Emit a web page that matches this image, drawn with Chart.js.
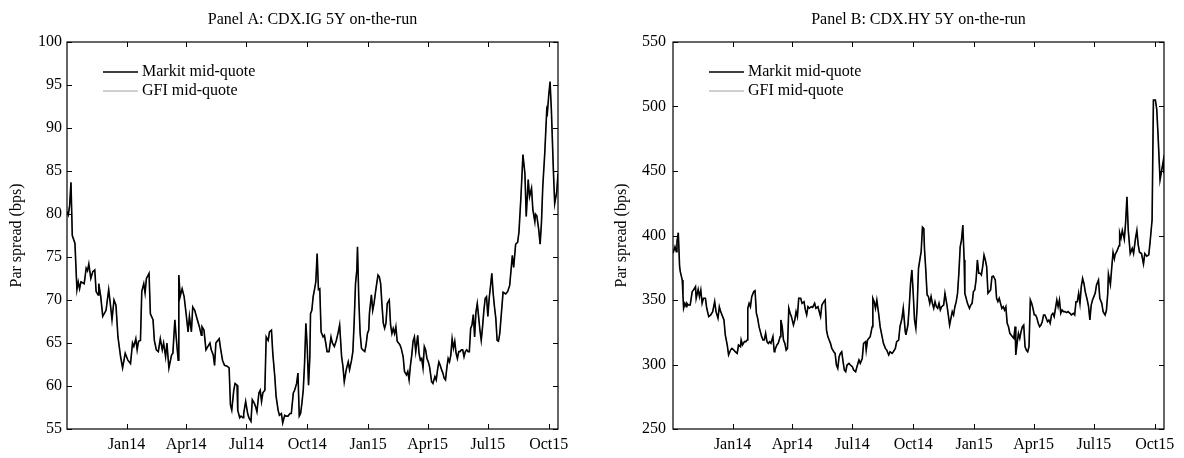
<!DOCTYPE html>
<html>
<head>
<meta charset="utf-8">
<script src="https://cdn.jsdelivr.net/npm/chart.js@4.4.1/dist/chart.umd.min.js"></script>
<style>
  html, body { margin: 0; padding: 0; background: #fff; }
  #wrap { position: relative; width: 1184px; height: 458px; }
  canvas { position: absolute; top: 0; }
</style>
</head>
<body>
<div id="wrap">
  <canvas id="panelA" width="592" height="458" style="left:0"></canvas>
  <canvas id="panelB" width="592" height="458" style="left:592px"></canvas>
</div>
<script>
// x values are days since 2013-10-01
const quarterDays = [92, 182, 273, 365, 457, 547, 638, 730];
const quarterLabels = ['Jan14', 'Apr14', 'Jul14', 'Oct14', 'Jan15', 'Apr15', 'Jul15', 'Oct15'];

// Panel A: CDX.IG 5Y
const daysA = [
  2, 4, 6, 8, 10, 14, 17, 19, 21, 23,
  26, 28, 31, 33, 35, 38, 41, 44, 46, 49,
  50, 53, 56, 61, 65, 68, 70, 73, 76, 79,
  83, 86, 90, 94, 98, 101, 103, 106, 108, 110,
  113, 115, 118, 120, 122, 126, 128, 132, 134, 137,
  140, 143, 146, 148, 151, 153, 156, 160, 162, 165,
  167, 170, 171, 173, 176, 179, 182, 185, 187, 190,
  192, 195, 199, 202, 205, 206, 209, 212, 215, 218,
  220, 223, 225, 227, 229, 232, 234, 237, 240, 244,
  247, 249, 251, 254, 256, 259, 260, 263, 265, 268,
  269, 272, 275, 277, 280, 282, 285, 287, 289, 292,
  294, 296, 298, 301, 303, 306, 308, 311, 313, 316,
  318, 321, 323, 326, 328, 331, 333, 336, 339, 341,
  344, 346, 349, 351, 353, 355, 357, 359, 361, 363,
  365, 367, 369, 370, 372, 374, 376, 378, 380, 382,
  384, 386, 389, 391, 393, 395, 398, 401, 403, 406,
  409, 412, 414, 417, 419, 421, 424, 427, 429, 432,
  434, 436, 438, 440, 441, 443, 445, 447, 449, 452,
  454, 456, 458, 459, 462, 464, 466, 468, 470, 472,
  474, 476, 478, 480, 482, 484, 486, 489, 491, 493,
  495, 497, 499, 501, 503, 505, 507, 510, 512, 515,
  517, 519, 521, 523, 525, 527, 529, 532, 534, 536,
  538, 540, 542, 544, 546, 548, 550, 553, 555, 558,
  560, 562, 564, 566, 568, 570, 572, 574, 576, 578,
  580, 582, 584, 586, 588, 590, 592, 594, 596, 598,
  600, 602, 604, 606, 608, 610, 612, 614, 616, 618,
  620, 622, 624, 626, 628, 630, 632, 634, 636, 638,
  640, 642, 644, 646, 648, 650, 652, 654, 656, 661,
  665, 668, 671, 675, 677, 680, 683, 685, 688, 691,
  694, 696, 699, 701, 704, 706, 709, 710, 712, 715,
  717, 719, 721, 724, 727, 728, 730, 732, 734, 737,
  739, 742, 744
];
const markitA = [
  80.3, 79.9, 81.0, 83.7, 77.5, 76.6, 71.2, 72.1, 71.3, 72.1,
  72.0, 71.9, 73.7, 73.4, 74.2, 72.5, 73.3, 73.5, 71.0, 70.6,
  71.9, 70.4, 68.1, 68.8, 71.2, 69.2, 67.7, 70.0, 69.4, 65.7,
  63.4, 62.1, 63.8, 63.0, 62.6, 65.0, 64.6, 65.5, 64.2, 65.2,
  65.3, 71.0, 71.9, 70.8, 72.5, 73.1, 68.4, 67.7, 65.3, 64.2,
  64.0, 65.5, 64.2, 65.0, 63.4, 65.0, 62.1, 63.6, 63.8, 67.7,
  65.7, 63.0, 72.9, 70.4, 71.3, 70.4, 68.4, 66.3, 68.1, 66.3,
  69.2, 68.8, 67.7, 66.9, 65.9, 66.9, 66.5, 64.2, 64.6, 65.0,
  64.2, 63.6, 62.4, 65.0, 65.2, 65.5, 64.4, 63.0, 62.4, 62.3,
  62.1, 57.8, 57.2, 59.5, 60.3, 60.1, 57.2, 56.3, 56.5, 56.3,
  56.8, 58.2, 56.8, 56.3, 55.9, 58.4, 58.0, 57.6, 57.0, 59.2,
  59.5, 58.2, 59.2, 59.5, 65.7, 65.3, 66.3, 66.5, 63.8, 61.1,
  58.8, 57.2, 56.6, 56.8, 55.7, 56.6, 56.5, 56.5, 56.8, 56.8,
  59.2, 59.5, 60.3, 61.5, 56.5, 56.8, 58.0, 59.5, 62.6, 67.3,
  64.6, 60.1, 63.4, 68.4, 68.8, 70.4, 71.2, 72.1, 75.4, 71.2,
  71.3, 66.3, 65.7, 65.9, 65.0, 64.0, 64.0, 65.7, 65.0, 64.6,
  65.3, 66.3, 67.1, 63.4, 62.3, 60.5, 61.9, 62.8, 61.9, 63.0,
  64.0, 67.5, 71.9, 73.5, 76.2, 70.0, 66.1, 64.4, 64.2, 64.0,
  64.8, 66.1, 66.5, 68.4, 70.6, 68.8, 69.6, 70.8, 71.9, 72.9,
  72.7, 71.9, 69.4, 67.3, 66.7, 67.3, 69.6, 70.0, 67.1, 66.1,
  66.7, 66.1, 66.9, 65.2, 65.0, 64.8, 64.4, 63.4, 61.7, 61.3,
  61.7, 60.7, 62.4, 63.6, 65.2, 65.7, 64.0, 65.9, 63.8, 63.0,
  63.2, 62.1, 64.6, 64.2, 63.2, 62.8, 62.2, 60.5, 60.3, 61.1,
  60.7, 61.9, 62.8, 62.4, 61.9, 61.5, 60.9, 60.7, 62.1, 63.2,
  62.8, 63.6, 65.5, 64.4, 65.2, 63.8, 63.2, 64.0, 64.0, 64.2,
  64.2, 63.4, 64.0, 64.2, 64.0, 64.0, 66.7, 67.1, 68.3, 65.7,
  68.6, 69.6, 68.1, 66.5, 65.3, 66.9, 68.8, 70.2, 70.4, 68.1,
  70.2, 71.6, 73.1, 70.8, 69.2, 67.9, 65.3, 65.2, 66.1, 70.9,
  70.7, 71.0, 71.7, 75.2, 73.8, 76.5, 76.7, 77.9, 82.0, 86.9,
  84.7, 79.7, 84.0, 82.0, 83.0, 80.5, 79.1, 80.0, 79.8, 78.1,
  76.5, 79.0, 83.2, 87.1, 92.1, 91.8, 93.8, 95.4, 92.1, 85.1,
  81.2, 82.5, 84.7
];
const gfiA = [
  80.2, 79.9, 81.1, 83.6, 77.5, 76.5, 71.2, 72.0, 71.3, 72.1,
  72.0, 71.8, 73.7, 73.4, 74.1, 72.5, 73.3, 73.4, 71.0, 70.6,
  71.9, 70.4, 68.2, 68.8, 71.2, 69.2, 67.7, 70.0, 69.3, 65.7,
  63.4, 62.1, 63.8, 63.0, 62.7, 65.0, 64.6, 65.4, 64.2, 65.2,
  65.3, 70.9, 71.9, 70.8, 72.5, 73.0, 68.4, 67.7, 65.3, 64.2,
  64.0, 65.5, 64.2, 65.0, 63.4, 64.9, 62.1, 63.6, 63.8, 67.6,
  65.7, 63.0, 72.8, 70.4, 71.3, 70.4, 68.4, 66.3, 68.1, 66.3,
  69.2, 68.8, 67.6, 66.9, 65.9, 66.9, 66.5, 64.2, 64.6, 65.0,
  64.2, 63.6, 62.4, 65.0, 65.2, 65.5, 64.4, 63.0, 62.4, 62.3,
  62.1, 57.8, 57.2, 59.5, 60.3, 60.1, 57.2, 56.3, 56.5, 56.3,
  56.8, 58.2, 56.8, 56.3, 55.9, 58.3, 58.0, 57.6, 57.0, 59.2,
  59.5, 58.2, 59.2, 59.5, 65.6, 65.3, 66.3, 66.5, 63.8, 61.1,
  58.8, 57.2, 56.6, 56.8, 55.8, 56.6, 56.5, 56.5, 56.8, 56.8,
  59.2, 59.5, 60.3, 61.5, 56.5, 56.8, 58.0, 59.5, 62.6, 67.2,
  64.6, 60.1, 63.4, 68.4, 68.8, 70.4, 71.2, 72.1, 75.3, 71.2,
  71.3, 66.3, 65.7, 65.9, 65.0, 64.0, 64.0, 65.7, 65.0, 64.6,
  65.3, 66.3, 67.1, 63.4, 62.3, 60.5, 61.9, 62.8, 61.9, 63.0,
  64.0, 67.5, 71.9, 73.5, 76.1, 70.0, 66.1, 64.4, 64.2, 64.0,
  64.8, 66.1, 66.5, 68.4, 70.6, 68.8, 69.6, 70.8, 71.9, 72.9,
  72.7, 71.9, 69.4, 67.3, 66.7, 67.3, 69.6, 70.0, 67.1, 66.1,
  66.7, 66.1, 66.9, 65.2, 65.0, 64.8, 64.4, 63.4, 61.7, 61.3,
  61.7, 60.7, 62.4, 63.6, 65.2, 65.7, 64.0, 65.9, 63.8, 63.0,
  63.2, 62.1, 64.6, 64.2, 63.2, 62.8, 62.2, 60.5, 60.3, 61.1,
  60.7, 61.9, 62.8, 62.4, 61.9, 61.5, 60.9, 60.7, 62.1, 63.2,
  62.8, 63.6, 65.5, 64.4, 65.2, 63.8, 63.2, 64.0, 64.0, 64.2,
  64.2, 63.4, 64.0, 64.2, 64.0, 64.0, 66.7, 67.1, 68.3, 65.7,
  68.6, 69.6, 68.1, 66.5, 65.3, 66.9, 68.8, 70.2, 70.4, 68.1,
  70.2, 71.6, 73.1, 70.8, 69.2, 67.9, 65.3, 65.2, 66.1, 70.9,
  70.7, 71.0, 71.7, 75.1, 73.8, 76.5, 76.7, 77.9, 82.0, 86.8,
  84.7, 79.7, 84.0, 82.0, 83.0, 80.5, 79.1, 80.0, 79.8, 78.1,
  76.5, 79.0, 83.2, 87.1, 92.0, 91.8, 93.8, 95.3, 92.1, 85.1,
  81.2, 82.5, 84.6
];

// Panel B: CDX.HY 5Y
const daysB = [
  2, 5, 7, 8, 10, 12, 13, 16, 17, 18,
  20, 22, 23, 25, 28, 31, 33, 36, 37, 40,
  42, 44, 46, 48, 51, 53, 56, 59, 62, 65,
  67, 70, 72, 74, 77, 79, 81, 84, 86, 89,
  91, 94, 96, 99, 101, 104, 105, 107, 110, 112,
  114, 115, 117, 119, 121, 124, 126, 128, 130, 132,
  134, 136, 138, 140, 142, 144, 146, 148, 150, 153,
  155, 156, 159, 161, 164, 165, 167, 169, 171, 173,
  175, 177, 179, 181, 184, 186, 188, 190, 192, 195,
  197, 200, 202, 204, 206, 208, 211, 213, 216, 218,
  221, 223, 225, 227, 230, 232, 234, 236, 238, 240,
  242, 245, 247, 249, 251, 253, 255, 257, 259, 261,
  263, 265, 268, 270, 273, 275, 278, 280, 283, 285,
  288, 290, 293, 294, 296, 298, 300, 303, 304, 306,
  308, 310, 313, 315, 318, 320, 323, 325, 328, 330,
  333, 335, 338, 340, 343, 345, 348, 350, 353, 354,
  357, 359, 361, 363, 365, 367, 369, 371, 373, 375,
  377, 379, 381, 382, 384, 386, 388, 390, 392, 394,
  396, 398, 400, 402, 404, 406, 408, 411, 413, 416,
  418, 420, 422, 424, 426, 428, 430, 432, 434, 436,
  438, 440, 442, 443, 445, 447, 450, 452, 454, 456,
  458, 460, 462, 464, 466, 468, 470, 472, 474, 476,
  478, 480, 482, 484, 486, 489, 491, 493, 495, 497,
  499, 501, 503, 505, 507, 509, 511, 513, 515, 517,
  519, 520, 522, 524, 526, 528, 530, 532, 534, 536,
  538, 540, 542, 544, 546, 548, 550, 552, 554, 556,
  558, 560, 562, 564, 566, 568, 570, 572, 574, 576,
  578, 580, 582, 584, 586, 588, 590, 592, 594, 597,
  599, 602, 604, 607, 609, 611, 613, 615, 617, 619,
  621, 623, 625, 628, 630, 632, 634, 636, 638, 640,
  642, 645, 647, 650, 652, 655, 657, 659, 660, 663,
  665, 667, 669, 670, 673, 676, 677, 679, 681, 684,
  686, 688, 690, 693, 696, 698, 701, 703, 705, 707,
  710, 713, 715, 718, 721, 723, 726, 728, 731, 733,
  735, 738, 741, 743, 744
];
const markitB = [
  386.2, 391.3, 387.5, 395.2, 402.2, 375.8, 372.0, 365.5, 353.9, 343.6,
  347.4, 344.8, 347.4, 346.1, 346.1, 356.5, 357.8, 360.3, 351.3, 358.3,
  352.6, 357.8, 347.4, 351.3, 351.3, 343.6, 337.1, 338.4, 341.0, 348.8,
  341.0, 335.8, 344.8, 341.0, 337.1, 334.5, 322.9, 315.1, 307.4, 311.2,
  312.5, 311.2, 309.9, 308.6, 315.1, 313.8, 319.0, 315.1, 317.7, 317.7,
  319.0, 343.6, 347.4, 344.8, 352.6, 356.5, 357.2, 339.7, 335.8, 329.3,
  325.5, 321.6, 319.0, 319.0, 324.2, 317.7, 316.4, 317.7, 316.4, 321.6,
  309.9, 311.2, 315.1, 316.4, 321.6, 334.5, 329.3, 319.0, 316.4, 311.2,
  312.5, 343.6, 339.7, 337.1, 330.6, 334.5, 341.0, 337.1, 351.3, 351.3,
  347.4, 348.7, 342.3, 338.4, 344.8, 343.6, 344.8, 344.3, 347.4, 343.6,
  344.8, 341.0, 337.1, 346.1, 348.7, 350.0, 326.7, 321.6, 319.0, 316.4,
  312.5, 309.9, 308.6, 299.6, 297.0, 306.0, 308.6, 309.9, 302.2, 295.7,
  294.4, 299.6, 300.9, 299.6, 298.3, 295.7, 294.4, 298.3, 303.5, 300.9,
  304.7, 316.4, 317.7, 311.2, 319.0, 320.3, 321.6, 329.3, 351.3, 348.7,
  343.6, 350.0, 338.4, 329.3, 321.6, 316.4, 312.5, 311.2, 307.4, 309.9,
  308.6, 309.9, 312.5, 317.7, 319.0, 329.3, 335.8, 343.6, 325.5, 322.9,
  330.6, 344.8, 362.9, 373.3, 355.2, 334.5, 328.0, 344.8, 374.6, 381.1,
  387.5, 406.5, 405.4, 390.0, 373.3, 354.0, 352.7, 347.4, 352.7, 347.4,
  343.6, 348.7, 344.8, 343.6, 347.4, 342.3, 344.8, 346.1, 355.2, 346.1,
  338.4, 330.6, 335.8, 341.0, 338.4, 344.8, 348.7, 355.2, 370.7, 391.3,
  396.5, 408.1, 381.0, 355.2, 351.3, 347.4, 343.5, 346.1, 347.4, 356.5,
  357.8, 365.5, 381.0, 370.7, 370.7, 369.4, 375.8, 384.9, 381.0, 375.8,
  355.2, 356.5, 357.8, 368.1, 368.6, 365.5, 351.3, 348.7, 351.3, 347.4,
  343.5, 344.8, 342.2, 344.8, 331.9, 329.3, 324.2, 322.9, 321.6, 320.3,
  329.3, 307.4, 316.4, 324.2, 320.3, 325.5, 329.3, 330.6, 313.8, 311.2,
  309.9, 313.8, 350.0, 347.4, 343.5, 338.4, 338.4, 335.8, 331.9, 329.3,
  330.6, 333.2, 338.4, 338.4, 335.8, 333.2, 334.5, 331.9, 338.4, 339.7,
  337.1, 343.5, 350.0, 344.8, 350.0, 339.7, 342.2, 341.0, 341.0, 340.2,
  341.0, 339.7, 338.4, 339.7, 338.4, 348.7, 348.7, 355.2, 347.4, 360.3,
  366.8, 362.9, 356.5, 350.0, 344.8, 334.5, 346.1, 350.0, 352.6, 355.2,
  361.6, 365.5, 351.3, 347.4, 341.0, 338.4, 342.0, 355.0, 370.0, 362.0,
  375.0, 387.0, 382.0, 385.0, 388.0, 392.0, 402.0, 398.0, 404.0, 397.0,
  410.0, 430.0, 404.0, 386.0, 390.0, 386.0, 398.0, 404.0, 393.0, 387.0,
  386.0, 378.0, 386.0, 384.0, 385.0, 395.0, 412.0, 505.0, 505.0, 498.0,
  478.0, 443.0, 452.0, 458.0, 448.0
];
const gfiB = [
  386.5, 391.0, 387.8, 395.0, 402.0, 376.2, 372.3, 365.1, 354.2, 343.9,
  347.1, 345.1, 347.2, 346.4, 345.8, 356.2, 358.1, 360.0, 351.6, 358.0,
  352.9, 357.5, 347.7, 351.0, 351.6, 343.3, 337.4, 338.1, 341.3, 348.5,
  341.3, 335.5, 344.5, 341.3, 336.8, 334.8, 323.2, 314.8, 307.7, 310.9,
  312.8, 310.9, 310.2, 308.3, 315.4, 313.5, 319.3, 314.8, 318.0, 317.4,
  319.3, 343.3, 347.7, 344.5, 352.9, 356.2, 357.5, 340.0, 335.5, 329.6,
  325.2, 321.9, 318.7, 319.3, 323.9, 318.0, 316.1, 318.0, 316.1, 321.9,
  310.2, 310.9, 315.4, 316.1, 321.9, 334.2, 329.6, 318.7, 316.7, 310.9,
  312.8, 343.3, 340.0, 336.8, 330.9, 334.2, 341.3, 336.8, 351.6, 351.0,
  347.7, 348.4, 342.6, 338.1, 345.1, 343.3, 345.1, 344.0, 347.7, 343.3,
  345.1, 340.7, 337.4, 345.8, 349.0, 349.7, 327.0, 321.3, 319.3, 316.1,
  312.8, 309.6, 308.9, 299.3, 297.3, 305.7, 308.9, 309.6, 302.5, 295.4,
  294.7, 299.3, 301.2, 299.3, 298.6, 295.4, 294.7, 298.0, 303.8, 300.6,
  305.0, 316.1, 318.0, 310.9, 319.3, 320.0, 321.9, 329.0, 351.0, 349.0,
  343.3, 350.3, 338.1, 329.6, 321.3, 316.7, 312.2, 311.5, 307.1, 310.2,
  308.3, 310.2, 312.2, 318.0, 318.7, 329.6, 335.5, 343.9, 325.2, 323.2,
  330.3, 345.1, 362.6, 373.0, 355.5, 334.2, 328.3, 344.5, 374.3, 381.4,
  387.2, 406.2, 405.7, 389.7, 373.6, 353.7, 353.0, 347.1, 353.0, 347.1,
  343.9, 348.4, 345.1, 343.3, 347.7, 342.0, 345.1, 345.8, 355.5, 345.8,
  338.7, 330.3, 336.1, 340.7, 338.7, 344.5, 349.0, 354.9, 371.0, 391.0,
  396.8, 407.8, 381.3, 354.9, 351.6, 347.1, 343.8, 345.8, 347.7, 356.2,
  358.1, 365.2, 381.3, 370.4, 371.0, 369.1, 376.1, 384.6, 381.3, 375.5,
  355.5, 356.2, 358.1, 367.8, 368.9, 365.2, 351.6, 348.4, 351.6, 347.1,
  343.8, 344.5, 342.5, 344.5, 332.2, 329.0, 324.5, 322.6, 321.9, 320.0,
  329.6, 307.7, 316.1, 324.5, 320.0, 325.8, 329.0, 330.9, 313.5, 311.5,
  309.6, 314.1, 349.7, 347.7, 343.2, 338.7, 338.1, 336.1, 331.6, 329.6,
  330.3, 333.5, 338.1, 338.7, 335.5, 333.5, 334.2, 332.2, 338.1, 340.0,
  336.8, 343.8, 349.7, 345.1, 349.7, 340.0, 341.9, 341.3, 340.7, 340.5,
  340.7, 340.0, 338.1, 340.0, 338.1, 349.0, 348.4, 355.5, 347.1, 360.6,
  366.5, 363.2, 356.2, 350.3, 344.5, 334.8, 345.8, 350.3, 352.3, 355.5,
  361.3, 365.8, 351.0, 347.7, 340.7, 338.7, 341.7, 355.3, 369.7, 362.3,
  374.7, 387.3, 381.7, 385.3, 387.7, 392.3, 401.7, 398.3, 403.7, 397.3,
  409.7, 429.5, 404.3, 385.7, 390.3, 385.7, 398.3, 403.7, 393.3, 386.7,
  386.3, 377.7, 386.3, 383.7, 385.3, 394.7, 412.3, 504.5, 505.3, 497.7,
  478.3, 442.7, 452.3, 457.7, 448.3
];

const FONT = "'Liberation Serif', 'Times New Roman', serif";
const X_MIN = 2;
const X_MAX = 744;

// box, inward tick marks, title and legend drawn inside the plot
const framePlugin = {
  id: 'frame',
  afterDraw(chart, args, opts) {
    const { ctx, chartArea: a, scales: { x, y } } = chart;
    ctx.save();
    ctx.strokeStyle = '#000';
    ctx.lineWidth = 1.2;
    ctx.strokeRect(a.left, a.top, a.right - a.left, a.bottom - a.top);

    const len = 5;
    ctx.lineWidth = 1;
    ctx.beginPath();
    x.ticks.forEach(t => {
      const px = Math.round(x.getPixelForValue(t.value)) + 0.5;
      ctx.moveTo(px, a.bottom); ctx.lineTo(px, a.bottom - len);
      ctx.moveTo(px, a.top); ctx.lineTo(px, a.top + len);
    });
    y.ticks.forEach(t => {
      const py = Math.round(y.getPixelForValue(t.value)) + 0.5;
      ctx.moveTo(a.left, py); ctx.lineTo(a.left + len, py);
      ctx.moveTo(a.right, py); ctx.lineTo(a.right - len, py);
    });
    ctx.stroke();

    ctx.fillStyle = '#000';
    ctx.font = '16px ' + FONT;
    ctx.textAlign = 'center';
    ctx.textBaseline = 'middle';
    ctx.fillText(opts.title, (a.left + a.right) / 2, 20);

    // legend
    ctx.textAlign = 'left';
    chart.data.datasets.forEach((ds, i) => {
      const ly = a.top + 30 + i * 19;
      ctx.strokeStyle = ds.borderColor;
      ctx.lineWidth = ds.borderWidth;
      ctx.beginPath();
      ctx.moveTo(a.left + 36, ly);
      ctx.lineTo(a.left + 71, ly);
      ctx.stroke();
      ctx.fillStyle = '#000';
      ctx.fillText(ds.label, a.left + 75, ly);
    });
    ctx.restore();
  }
};

function makePanel(canvasId, title, days, markit, gfi, yMin, yMax, yStep, leftWidth, rightPad, titlePad, tickPad) {
  const toPoints = vals => days.map((d, i) => ({ x: d, y: vals[i] }));
  return new Chart(document.getElementById(canvasId), {
    type: 'line',
    data: {
      datasets: [
        { label: 'Markit mid-quote', data: toPoints(markit), borderColor: '#000000', borderWidth: 1.6, pointRadius: 0, tension: 0 },
        { label: 'GFI mid-quote', data: toPoints(gfi), borderColor: '#a0a0a0', borderWidth: 1, pointRadius: 0, tension: 0 }
      ]
    },
    options: {
      responsive: false,
      animation: false,
      devicePixelRatio: 1,
      layout: { padding: { top: 42, right: rightPad, left: 0, bottom: 0 } },
      plugins: {
        legend: { display: false },
        tooltip: { enabled: false },
        frame: { title: title }
      },
      scales: {
        x: {
          type: 'linear',
          min: X_MIN,
          max: X_MAX,
          grid: { display: false, drawTicks: false },
          border: { display: false },
          afterBuildTicks: s => { s.ticks = quarterDays.map(v => ({ value: v })); },
          afterFit: s => { s.height = 29; },
          ticks: {
            autoSkip: false,
            maxRotation: 0,
            padding: 6,
            color: '#000',
            font: { family: FONT, size: 16 },
            callback: v => quarterLabels[quarterDays.indexOf(v)]
          }
        },
        y: {
          min: yMin,
          max: yMax,
          grid: { display: false, drawTicks: false },
          border: { display: false },
          afterFit: s => { s.width = leftWidth; },
          ticks: { stepSize: yStep, padding: tickPad, color: '#000', font: { family: FONT, size: 16 } },
          title: {
            display: true,
            text: 'Par spread (bps)',
            color: '#000',
            font: { family: FONT, size: 16 },
            padding: { top: titlePad, bottom: 0 }
          }
        }
      }
    },
    plugins: [framePlugin]
  });
}

makePanel('panelA', 'Panel A: CDX.IG 5Y on-the-run', daysA, markitA, gfiA, 55, 100, 5, 67, 34, 7, 5);
makePanel('panelB', 'Panel B: CDX.HY 5Y on-the-run', daysB, markitB, gfiB, 250, 550, 50, 81, 20, 20, 7);
</script>
</body>
</html>
